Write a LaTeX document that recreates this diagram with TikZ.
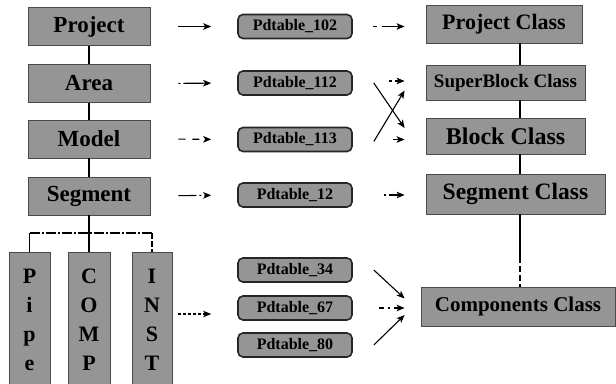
\documentclass[tikz,border=0pt]{standalone}
\usepackage{fontspec}
\setmainfont{Liberation Serif}[BoldFont={Liberation Serif Bold}]
\usetikzlibrary{arrows.meta}
\definecolor{boxgray}{HTML}{959595}
\definecolor{edgegray}{HTML}{4A4A4A}

\tikzset{
  lbox/.style={draw=edgegray, line width=0.8pt, fill=boxgray, inner sep=0pt,
    minimum width=122pt, minimum height=38pt,
    font=\rmfamily\bfseries\fontsize{23}{25}\selectfont},
  pdbox/.style={draw=black!85, line width=1.6pt, rounded corners=5pt, fill=boxgray,
    inner sep=0pt, minimum width=114pt, minimum height=24pt,
    font=\rmfamily\bfseries\fontsize{16}{18}\selectfont},
  vbox/.style={draw=edgegray, line width=0.8pt, fill=boxgray, inner sep=0pt,
    minimum width=41pt, minimum height=134pt, anchor=north, align=center,
    font=\rmfamily\bfseries\fontsize{22}{29}\selectfont},
  conn/.style={line width=1.1pt},
  arr/.style={conn, -{Stealth[length=8pt,width=6.5pt,inset=2pt]}}
}

\begin{document}
\begin{tikzpicture}[x=1pt, y=-1pt]
  \useasboundingbox (0,0) rectangle (616,383);
  \clip (0,0) rectangle (616,383);
  \fill[white] (0,0) rectangle (616,383);

  % left column: data hierarchy
  \node[lbox] (project) at (89,26.5) {Project};
  \node[lbox] (area)    at (89,83.5) {Area};
  \node[lbox] (model)   at (89,139)  {Model};
  \node[lbox] (segment) at (89,196)  {Segment};

  \node[vbox] (pipe) at (29.5,252) {P\\i\\p\\e};
  \node[vbox, minimum width=42pt] (comp) at (89,252) {C\\O\\M\\P};
  \node[vbox, minimum width=40pt] (inst) at (152,252) {I\\N\\S\\T};

  % middle column: tables
  \node[pdbox] (pd102) at (295,26.5) {Pdtable\_102};
  \node[pdbox] (pd112) at (295,83)   {Pdtable\_112};
  \node[pdbox] (pd113) at (295,139.5){Pdtable\_113};
  \node[pdbox] (pd12)  at (295,195)  {Pdtable\_12};
  \node[pdbox] (pd34)  at (295,270)  {Pdtable\_34};
  \node[pdbox] (pd67)  at (295,308)  {Pdtable\_67};
  \node[pdbox] (pd80)  at (295,345)  {Pdtable\_80};

  % right column: classes
  \node[lbox, minimum width=156pt, minimum height=38pt, font=\rmfamily\bfseries\fontsize{22}{24}\selectfont]
    (projc) at (504,24) {Project Class};
  \node[lbox, minimum width=159pt, minimum height=35pt, font=\rmfamily\bfseries\fontsize{19}{21}\selectfont]
    (superc) at (505.5,82.5) {SuperBlock Class};
  \node[lbox, minimum width=159pt, minimum height=36pt, font=\rmfamily\bfseries\fontsize{24}{26}\selectfont]
    (blockc) at (505.5,136) {Block Class};
  \node[lbox, minimum width=179pt, minimum height=40pt, font=\rmfamily\bfseries\fontsize{23.5}{26}\selectfont]
    (segc) at (515.5,194) {Segment Class};
  \node[lbox, minimum width=194pt, minimum height=39pt, font=\rmfamily\bfseries\fontsize{21}{23}\selectfont]
    (compc) at (518,306.5) {Components Class};

  % hierarchy lines, left
  \draw[conn] (project) -- (area);
  \draw[conn] (area) -- (model);
  \draw[conn] (model) -- (segment);
  \coordinate (split) at (89,233);
  \draw[conn] (segment) -- (comp);
  \draw[conn, dash pattern=on 10pt off 2pt on 2pt off 2pt] (pipe.north |- split) -- (inst.north |- split);
  \draw[conn] (pipe.north |- split) -- (pipe.north);
  \draw[conn, dash pattern=on 6pt off 2pt] (inst.north |- split) -- (inst.north);

  % hierarchy lines, right
  \coordinate (rl) at (520,0);
  \draw[conn] (projc.south -| rl) -- (superc.north -| rl);
  \draw[conn] (superc.south -| rl) -- (blockc.north -| rl);
  \draw[conn] (blockc.south -| rl) -- (segc.north -| rl);
  \coordinate (mid) at (520,257);
  \draw[conn] (segc.south -| rl) -- (mid);
  \draw[conn, dash pattern=on 6pt off 3pt] (mid) -- (compc.north -| rl);

  % objects to tables
  \draw[arr, shorten <=28pt, shorten >=26pt] (project.east) -- (pd102.west);
  \draw[arr, shorten <=28pt, shorten >=26pt, dash pattern=on 2pt off 3pt on 40pt] (area.east) -- (pd112.west);
  \draw[arr, shorten <=28pt, shorten >=26pt, dash pattern=on 7pt off 7pt] (model.east) -- (pd113.west);
  \draw[arr, shorten <=28pt, shorten >=26pt, dash pattern=on 18pt off 3pt on 2pt off 3pt] (segment.east) -- (pd12.west);
  \draw[arr, shorten <=6pt, shorten >=26pt, dash pattern=on 3pt off 2pt]
    ([yshift=-6pt]pd67.west -| inst.east) -- ([yshift=-6pt]pd67.west);

  % tables to classes
  \draw[arr, shorten <=20pt, shorten >=21pt, dash pattern=on 4pt off 5pt on 30pt] (pd102.east) -- (pd102.east -| projc.west);
  \draw[arr, shorten <=36pt, shorten >=21pt, dash pattern=on 3pt off 3pt on 20pt] ([yshift=2pt]pd112.east) -- ([yshift=2pt]pd112.east -| superc.west);
  \draw[arr, shorten <=40pt, shorten >=21pt] (pd113.east) -- (pd113.east -| blockc.west);
  \draw[arr] ([xshift=21pt]pd112.east) -- ([xshift=-21pt,yshift=8pt]blockc.west);
  \draw[arr] ([xshift=21pt,yshift=-2pt]pd113.east) -- ([xshift=-21pt,yshift=-8pt]superc.west);
  \draw[arr, shorten <=31pt, shorten >=21pt, dash pattern=on 2pt off 3pt on 30pt] (pd12.east) -- (pd12.east -| segc.west);
  \draw[arr] ([xshift=21pt]pd34.east) -- ([xshift=-16pt,yshift=8pt]compc.west);
  \draw[arr, shorten <=26pt, shorten >=16pt, dash pattern=on 5pt off 4pt on 2pt off 4pt] (pd67.east) -- (pd67.east -| compc.west);
  \draw[arr] ([xshift=21pt]pd80.east) -- ([xshift=-16pt,yshift=-8.5pt]compc.west);
\end{tikzpicture}
\end{document}
